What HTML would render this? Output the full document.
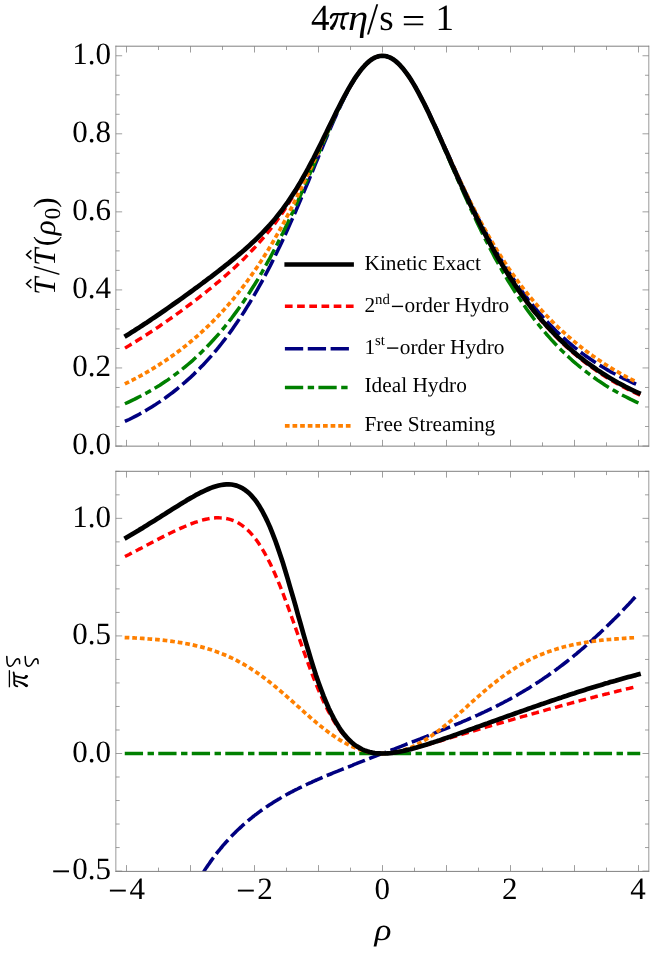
<!DOCTYPE html>
<html><head><meta charset="utf-8"><title>plot</title>
<style>html,body{margin:0;padding:0;background:#fff}body{width:664px;height:958px;position:relative;overflow:hidden;font-family:"Liberation Serif",serif}</style>
</head><body>
<svg text-rendering="geometricPrecision" width="664" height="958" viewBox="0 0 664 958" style="position:absolute;left:0;top:0;will-change:transform">
<defs><clipPath id="c1"><rect x="115.85" y="46.2" width="532.9499999999999" height="399.95"/></clipPath><clipPath id="c2"><rect x="115.85" y="471.3" width="532.9499999999999" height="400.09999999999997"/></clipPath></defs>
<g clip-path="url(#c1)" fill="none" stroke-linejoin="round" stroke-linecap="square">
<path d="M126.5 347.2 L129.1 345.6 L131.6 344.1 L134.2 342.5 L136.7 340.9 L139.3 339.3 L141.9 337.7 L144.4 336.1 L147.0 334.4 L149.5 332.8 L152.1 331.1 L154.7 329.4 L157.2 327.7 L159.8 326.0 L162.3 324.2 L164.9 322.5 L167.5 320.7 L170.0 318.9 L172.6 317.1 L175.1 315.3 L177.7 313.4 L180.3 311.6 L182.8 309.7 L185.4 307.8 L187.9 305.9 L190.5 304.0 L193.1 302.1 L195.6 300.1 L198.2 298.1 L200.7 296.1 L203.3 294.1 L205.9 292.1 L208.4 290.0 L211.0 288.0 L213.5 285.9 L216.1 283.7 L218.7 281.6 L221.2 279.4 L223.8 277.2 L226.3 275.0 L228.9 272.7 L231.5 270.4 L234.0 268.1 L236.6 265.7 L239.1 263.3 L241.7 260.9 L244.3 258.4 L246.8 255.8 L249.4 253.2 L251.9 250.5 L254.5 247.8 L257.1 245.0 L259.6 242.2 L262.2 239.2 L264.7 236.2 L267.3 233.1 L269.9 229.9 L272.4 226.7 L275.0 223.3 L277.5 219.8 L280.1 216.2 L282.7 212.5 L285.2 208.7 L287.8 204.8 L290.3 200.7 L292.9 196.6 L295.5 192.3 L298.0 187.9 L300.6 183.4 L303.1 178.7 L305.7 174.0 L308.3 169.1 L310.8 164.2 L313.4 159.1 L315.9 154.0 L318.5 148.8 L321.1 143.6 L323.6 138.3 L326.2 133.0 L328.7 127.7 L331.3 122.4 L333.9 117.1 L336.4 111.9 L339.0 106.8 L341.5 101.8 L344.1 96.9 L346.7 92.2 L349.2 87.6 L351.8 83.3 L354.3 79.2 L356.9 75.4 L359.5 71.8 L362.0 68.6 L364.6 65.7 L367.1 63.1 L369.7 60.9 L372.3 59.0 L374.8 57.6 L377.4 56.6 L379.9 56.0 L382.5 55.8 L385.1 56.0 L387.6 56.6 L390.2 57.6 L392.7 59.0 L395.3 60.9 L397.9 63.1 L400.4 65.7 L403.0 68.6 L405.5 71.9 L408.1 75.4 L410.7 79.3 L413.2 83.4 L415.8 87.8 L418.3 92.5 L420.9 97.3 L423.5 102.3 L426.0 107.5 L428.6 112.8 L431.1 118.2 L433.7 123.7 L436.3 129.3 L438.8 135.0 L441.4 140.8 L443.9 146.5 L446.5 152.3 L449.1 158.1 L451.6 163.8 L454.2 169.6 L456.7 175.3 L459.3 181.0 L461.9 186.6 L464.4 192.2 L467.0 197.7 L469.5 203.2 L472.1 208.6 L474.7 213.9 L477.2 219.1 L479.8 224.2 L482.3 229.3 L484.9 234.2 L487.5 239.1 L490.0 243.9 L492.6 248.6 L495.1 253.2 L497.7 257.7 L500.3 262.1 L502.8 266.4 L505.4 270.6 L507.9 274.7 L510.5 278.8 L513.1 282.7 L515.6 286.6 L518.2 290.4 L520.7 294.0 L523.3 297.6 L525.9 301.2 L528.4 304.6 L531.0 307.9 L533.5 311.2 L536.1 314.4 L538.7 317.5 L541.2 320.6 L543.8 323.5 L546.3 326.4 L548.9 329.2 L551.5 332.0 L554.0 334.7 L556.6 337.3 L559.1 339.9 L561.7 342.4 L564.3 344.8 L566.8 347.2 L569.4 349.5 L571.9 351.7 L574.5 353.9 L577.1 356.1 L579.6 358.2 L582.2 360.2 L584.7 362.2 L587.3 364.2 L589.9 366.1 L592.4 367.9 L595.0 369.7 L597.5 371.5 L600.1 373.2 L602.7 374.9 L605.2 376.5 L607.8 378.1 L610.3 379.7 L612.9 381.2 L615.5 382.7 L618.0 384.1 L620.6 385.5 L623.1 386.9 L625.7 388.3 L628.3 389.6 L630.8 390.9 L633.4 392.1 L635.9 393.3 L638.5 394.5" stroke="#ff0000" stroke-width="3.45" stroke-dasharray="4.25 7.95" stroke-dashoffset="0"/>
<path d="M126.5 420.7 L129.1 419.5 L131.6 418.2 L134.2 416.9 L136.7 415.6 L139.3 414.2 L141.9 412.8 L144.4 411.3 L147.0 409.8 L149.5 408.3 L152.1 406.7 L154.7 405.1 L157.2 403.4 L159.8 401.7 L162.3 400.0 L164.9 398.2 L167.5 396.3 L170.0 394.4 L172.6 392.5 L175.1 390.5 L177.7 388.4 L180.3 386.3 L182.8 384.1 L185.4 381.9 L187.9 379.6 L190.5 377.3 L193.1 374.9 L195.6 372.4 L198.2 369.9 L200.7 367.3 L203.3 364.7 L205.9 361.9 L208.4 359.1 L211.0 356.3 L213.5 353.3 L216.1 350.3 L218.7 347.2 L221.2 344.0 L223.8 340.7 L226.3 337.4 L228.9 333.9 L231.5 330.4 L234.0 326.8 L236.6 323.1 L239.1 319.3 L241.7 315.5 L244.3 311.5 L246.8 307.4 L249.4 303.3 L251.9 299.0 L254.5 294.7 L257.1 290.2 L259.6 285.7 L262.2 281.0 L264.7 276.3 L267.3 271.4 L269.9 266.5 L272.4 261.4 L275.0 256.2 L277.5 251.0 L280.1 245.7 L282.7 240.2 L285.2 234.7 L287.8 229.1 L290.3 223.4 L292.9 217.6 L295.5 211.7 L298.0 205.8 L300.6 199.8 L303.1 193.7 L305.7 187.6 L308.3 181.5 L310.8 175.3 L313.4 169.1 L315.9 162.9 L318.5 156.7 L321.1 150.5 L323.6 144.3 L326.2 138.2 L328.7 132.2 L331.3 126.3 L333.9 120.4 L336.4 114.7 L339.0 109.1 L341.5 103.7 L344.1 98.4 L346.7 93.4 L349.2 88.6 L351.8 84.0 L354.3 79.8 L356.9 75.8 L359.5 72.1 L362.0 68.8 L364.6 65.8 L367.1 63.2 L369.7 60.9 L372.3 59.1 L374.8 57.6 L377.4 56.6 L379.9 56.0 L382.5 55.8 L385.1 56.0 L387.6 56.6 L390.2 57.6 L392.7 59.0 L395.3 60.8 L397.9 63.0 L400.4 65.6 L403.0 68.5 L405.5 71.7 L408.1 75.2 L410.7 79.1 L413.2 83.1 L415.8 87.5 L418.3 92.0 L420.9 96.8 L423.5 101.7 L426.0 106.8 L428.6 112.0 L431.1 117.3 L433.7 122.8 L436.3 128.3 L438.8 133.9 L441.4 139.5 L443.9 145.2 L446.5 150.8 L449.1 156.5 L451.6 162.2 L454.2 167.8 L456.7 173.4 L459.3 179.0 L461.9 184.5 L464.4 190.0 L467.0 195.4 L469.5 200.7 L472.1 206.0 L474.7 211.2 L477.2 216.3 L479.8 221.4 L482.3 226.3 L484.9 231.2 L487.5 235.9 L490.0 240.6 L492.6 245.2 L495.1 249.7 L497.7 254.1 L500.3 258.4 L502.8 262.6 L505.4 266.7 L507.9 270.7 L510.5 274.7 L513.1 278.5 L515.6 282.3 L518.2 285.9 L520.7 289.5 L523.3 293.0 L525.9 296.4 L528.4 299.8 L531.0 303.0 L533.5 306.2 L536.1 309.3 L538.7 312.3 L541.2 315.2 L543.8 318.1 L546.3 320.9 L548.9 323.6 L551.5 326.3 L554.0 328.8 L556.6 331.4 L559.1 333.8 L561.7 336.2 L564.3 338.5 L566.8 340.8 L569.4 343.0 L571.9 345.2 L574.5 347.3 L577.1 349.3 L579.6 351.3 L582.2 353.3 L584.7 355.2 L587.3 357.0 L589.9 358.8 L592.4 360.5 L595.0 362.2 L597.5 363.9 L600.1 365.5 L602.7 367.1 L605.2 368.6 L607.8 370.1 L610.3 371.6 L612.9 373.0 L615.5 374.3 L618.0 375.7 L620.6 377.0 L623.1 378.3 L625.7 379.5 L628.3 380.7 L630.8 381.9 L633.4 383.0 L635.9 384.1 L638.5 385.2" stroke="#000080" stroke-width="3.55" stroke-dasharray="14.75 8.11" stroke-dashoffset="0"/>
<path d="M126.5 403.0 L129.1 401.8 L131.6 400.6 L134.2 399.4 L136.7 398.1 L139.3 396.8 L141.9 395.5 L144.4 394.1 L147.0 392.7 L149.5 391.3 L152.1 389.8 L154.7 388.3 L157.2 386.8 L159.8 385.2 L162.3 383.5 L164.9 381.8 L167.5 380.1 L170.0 378.3 L172.6 376.5 L175.1 374.6 L177.7 372.7 L180.3 370.7 L182.8 368.7 L185.4 366.6 L187.9 364.5 L190.5 362.3 L193.1 360.1 L195.6 357.7 L198.2 355.4 L200.7 352.9 L203.3 350.4 L205.9 347.9 L208.4 345.2 L211.0 342.5 L213.5 339.8 L216.1 336.9 L218.7 334.0 L221.2 331.0 L223.8 328.0 L226.3 324.8 L228.9 321.6 L231.5 318.3 L234.0 314.9 L236.6 311.4 L239.1 307.9 L241.7 304.2 L244.3 300.5 L246.8 296.7 L249.4 292.8 L251.9 288.8 L254.5 284.7 L257.1 280.5 L259.6 276.2 L262.2 271.8 L264.7 267.3 L267.3 262.7 L269.9 258.1 L272.4 253.3 L275.0 248.4 L277.5 243.5 L280.1 238.4 L282.7 233.3 L285.2 228.0 L287.8 222.7 L290.3 217.3 L292.9 211.8 L295.5 206.2 L298.0 200.6 L300.6 194.9 L303.1 189.1 L305.7 183.3 L308.3 177.4 L310.8 171.5 L313.4 165.6 L315.9 159.7 L318.5 153.8 L321.1 147.8 L323.6 141.9 L326.2 136.1 L328.7 130.2 L331.3 124.5 L333.9 118.9 L336.4 113.3 L339.0 107.9 L341.5 102.7 L344.1 97.6 L346.7 92.7 L349.2 88.0 L351.8 83.6 L354.3 79.4 L356.9 75.5 L359.5 71.9 L362.0 68.6 L364.6 65.7 L367.1 63.1 L369.7 60.9 L372.3 59.1 L374.8 57.6 L377.4 56.6 L379.9 56.0 L382.5 55.8 L385.1 56.0 L387.6 56.6 L390.2 57.6 L392.7 59.1 L395.3 60.9 L397.9 63.1 L400.4 65.7 L403.0 68.6 L405.5 71.9 L408.1 75.5 L410.7 79.4 L413.2 83.6 L415.8 88.0 L418.3 92.7 L420.9 97.6 L423.5 102.7 L426.0 107.9 L428.6 113.3 L431.1 118.9 L433.7 124.5 L436.3 130.2 L438.8 136.1 L441.4 141.9 L443.9 147.8 L446.5 153.8 L449.1 159.7 L451.6 165.6 L454.2 171.5 L456.7 177.4 L459.3 183.3 L461.9 189.1 L464.4 194.9 L467.0 200.6 L469.5 206.2 L472.1 211.8 L474.7 217.3 L477.2 222.7 L479.8 228.0 L482.3 233.3 L484.9 238.4 L487.5 243.5 L490.0 248.4 L492.6 253.3 L495.1 258.1 L497.7 262.7 L500.3 267.3 L502.8 271.8 L505.4 276.2 L507.9 280.5 L510.5 284.7 L513.1 288.8 L515.6 292.8 L518.2 296.7 L520.7 300.5 L523.3 304.2 L525.9 307.9 L528.4 311.4 L531.0 314.9 L533.5 318.3 L536.1 321.6 L538.7 324.8 L541.2 328.0 L543.8 331.0 L546.3 334.0 L548.9 336.9 L551.5 339.8 L554.0 342.5 L556.6 345.2 L559.1 347.9 L561.7 350.4 L564.3 352.9 L566.8 355.4 L569.4 357.7 L571.9 360.1 L574.5 362.3 L577.1 364.5 L579.6 366.6 L582.2 368.7 L584.7 370.7 L587.3 372.7 L589.9 374.6 L592.4 376.5 L595.0 378.3 L597.5 380.1 L600.1 381.8 L602.7 383.5 L605.2 385.2 L607.8 386.8 L610.3 388.3 L612.9 389.8 L615.5 391.3 L618.0 392.7 L620.6 394.1 L623.1 395.5 L625.7 396.8 L628.3 398.1 L630.8 399.4 L633.4 400.6 L635.9 401.8 L638.5 403.0" stroke="#008000" stroke-width="3.5" stroke-dasharray="14.8 8.0 2.9 7.8" stroke-dashoffset="0"/>
<path d="M126.5 383.1 L129.1 381.8 L131.6 380.5 L134.2 379.2 L136.7 377.9 L139.3 376.5 L141.9 375.1 L144.4 373.6 L147.0 372.1 L149.5 370.6 L152.1 369.1 L154.7 367.5 L157.2 365.9 L159.8 364.3 L162.3 362.6 L164.9 360.9 L167.5 359.2 L170.0 357.4 L172.6 355.6 L175.1 353.8 L177.7 351.9 L180.3 350.0 L182.8 348.0 L185.4 346.0 L187.9 343.9 L190.5 341.8 L193.1 339.7 L195.6 337.5 L198.2 335.2 L200.7 332.9 L203.3 330.6 L205.9 328.2 L208.4 325.8 L211.0 323.3 L213.5 320.7 L216.1 318.1 L218.7 315.4 L221.2 312.7 L223.8 309.9 L226.3 307.0 L228.9 304.1 L231.5 301.1 L234.0 298.1 L236.6 294.9 L239.1 291.7 L241.7 288.5 L244.3 285.1 L246.8 281.7 L249.4 278.2 L251.9 274.6 L254.5 270.9 L257.1 267.2 L259.6 263.3 L262.2 259.4 L264.7 255.4 L267.3 251.3 L269.9 247.1 L272.4 242.8 L275.0 238.4 L277.5 233.9 L280.1 229.4 L282.7 224.7 L285.2 220.0 L287.8 215.1 L290.3 210.2 L292.9 205.2 L295.5 200.1 L298.0 194.9 L300.6 189.6 L303.1 184.3 L305.7 178.9 L308.3 173.4 L310.8 167.9 L313.4 162.4 L315.9 156.8 L318.5 151.2 L321.1 145.5 L323.6 139.9 L326.2 134.3 L328.7 128.8 L331.3 123.3 L333.9 117.8 L336.4 112.5 L339.0 107.2 L341.5 102.1 L344.1 97.1 L346.7 92.3 L349.2 87.8 L351.8 83.4 L354.3 79.3 L356.9 75.4 L359.5 71.8 L362.0 68.6 L364.6 65.7 L367.1 63.1 L369.7 60.9 L372.3 59.0 L374.8 57.6 L377.4 56.6 L379.9 56.0 L382.5 55.8 L385.1 56.0 L387.6 56.6 L390.2 57.6 L392.7 59.0 L395.3 60.9 L397.9 63.1 L400.4 65.7 L403.0 68.6 L405.5 71.8 L408.1 75.4 L410.7 79.3 L413.2 83.4 L415.8 87.8 L418.3 92.3 L420.9 97.1 L423.5 102.1 L426.0 107.2 L428.6 112.5 L431.1 117.8 L433.7 123.3 L436.3 128.8 L438.8 134.3 L441.4 139.9 L443.9 145.5 L446.5 151.2 L449.1 156.8 L451.6 162.4 L454.2 167.9 L456.7 173.4 L459.3 178.9 L461.9 184.3 L464.4 189.6 L467.0 194.9 L469.5 200.1 L472.1 205.2 L474.7 210.2 L477.2 215.1 L479.8 220.0 L482.3 224.7 L484.9 229.4 L487.5 233.9 L490.0 238.4 L492.6 242.8 L495.1 247.1 L497.7 251.3 L500.3 255.4 L502.8 259.4 L505.4 263.3 L507.9 267.2 L510.5 270.9 L513.1 274.6 L515.6 278.2 L518.2 281.7 L520.7 285.1 L523.3 288.5 L525.9 291.7 L528.4 294.9 L531.0 298.1 L533.5 301.1 L536.1 304.1 L538.7 307.0 L541.2 309.9 L543.8 312.7 L546.3 315.4 L548.9 318.1 L551.5 320.7 L554.0 323.3 L556.6 325.8 L559.1 328.2 L561.7 330.6 L564.3 332.9 L566.8 335.2 L569.4 337.5 L571.9 339.7 L574.5 341.8 L577.1 343.9 L579.6 346.0 L582.2 348.0 L584.7 350.0 L587.3 351.9 L589.9 353.8 L592.4 355.6 L595.0 357.4 L597.5 359.2 L600.1 360.9 L602.7 362.6 L605.2 364.3 L607.8 365.9 L610.3 367.5 L612.9 369.1 L615.5 370.6 L618.0 372.1 L620.6 373.6 L623.1 375.1 L625.7 376.5 L628.3 377.9 L630.8 379.2 L633.4 380.5 L635.9 381.8 L638.5 383.1" stroke="#ff8000" stroke-width="3.7" stroke-dasharray="1.0 6.62" stroke-dashoffset="0"/>
<path d="M126.5 335.5 L129.1 333.9 L131.6 332.3 L134.2 330.7 L136.7 329.0 L139.3 327.4 L141.9 325.7 L144.4 324.0 L147.0 322.4 L149.5 320.7 L152.1 318.9 L154.7 317.2 L157.2 315.5 L159.8 313.7 L162.3 312.0 L164.9 310.2 L167.5 308.4 L170.0 306.6 L172.6 304.8 L175.1 303.0 L177.7 301.2 L180.3 299.4 L182.8 297.6 L185.4 295.7 L187.9 293.9 L190.5 292.0 L193.1 290.1 L195.6 288.2 L198.2 286.4 L200.7 284.5 L203.3 282.5 L205.9 280.6 L208.4 278.7 L211.0 276.8 L213.5 274.8 L216.1 272.8 L218.7 270.9 L221.2 268.9 L223.8 266.9 L226.3 264.8 L228.9 262.8 L231.5 260.7 L234.0 258.6 L236.6 256.5 L239.1 254.4 L241.7 252.2 L244.3 250.0 L246.8 247.7 L249.4 245.4 L251.9 243.1 L254.5 240.7 L257.1 238.2 L259.6 235.7 L262.2 233.1 L264.7 230.5 L267.3 227.7 L269.9 224.9 L272.4 222.0 L275.0 218.9 L277.5 215.8 L280.1 212.5 L282.7 209.2 L285.2 205.7 L287.8 202.1 L290.3 198.3 L292.9 194.4 L295.5 190.4 L298.0 186.2 L300.6 181.9 L303.1 177.5 L305.7 172.9 L308.3 168.2 L310.8 163.4 L313.4 158.5 L315.9 153.5 L318.5 148.4 L321.1 143.2 L323.6 138.0 L326.2 132.8 L328.7 127.5 L331.3 122.3 L333.9 117.0 L336.4 111.9 L339.0 106.8 L341.5 101.8 L344.1 96.9 L346.7 92.2 L349.2 87.6 L351.8 83.3 L354.3 79.2 L356.9 75.4 L359.5 71.8 L362.0 68.6 L364.6 65.7 L367.1 63.1 L369.7 60.9 L372.3 59.0 L374.8 57.6 L377.4 56.6 L379.9 56.0 L382.5 55.8 L385.1 56.0 L387.6 56.6 L390.2 57.6 L392.7 59.0 L395.3 60.9 L397.9 63.1 L400.4 65.7 L403.0 68.6 L405.5 71.9 L408.1 75.4 L410.7 79.3 L413.2 83.4 L415.8 87.8 L418.3 92.4 L420.9 97.3 L423.5 102.3 L426.0 107.4 L428.6 112.8 L431.1 118.2 L433.7 123.7 L436.3 129.3 L438.8 135.0 L441.4 140.7 L443.9 146.5 L446.5 152.2 L449.1 158.0 L451.6 163.7 L454.2 169.5 L456.7 175.2 L459.3 180.9 L461.9 186.5 L464.4 192.0 L467.0 197.5 L469.5 203.0 L472.1 208.3 L474.7 213.6 L477.2 218.8 L479.8 223.9 L482.3 228.9 L484.9 233.9 L487.5 238.7 L490.0 243.5 L492.6 248.1 L495.1 252.7 L497.7 257.2 L500.3 261.5 L502.8 265.8 L505.4 270.0 L507.9 274.1 L510.5 278.1 L513.1 282.0 L515.6 285.9 L518.2 289.6 L520.7 293.3 L523.3 296.8 L525.9 300.3 L528.4 303.7 L531.0 307.0 L533.5 310.3 L536.1 313.5 L538.7 316.5 L541.2 319.6 L543.8 322.5 L546.3 325.4 L548.9 328.2 L551.5 330.9 L554.0 333.6 L556.6 336.2 L559.1 338.7 L561.7 341.2 L564.3 343.6 L566.8 345.9 L569.4 348.2 L571.9 350.5 L574.5 352.7 L577.1 354.8 L579.6 356.9 L582.2 358.9 L584.7 360.9 L587.3 362.8 L589.9 364.7 L592.4 366.5 L595.0 368.3 L597.5 370.1 L600.1 371.8 L602.7 373.5 L605.2 375.1 L607.8 376.7 L610.3 378.2 L612.9 379.7 L615.5 381.2 L618.0 382.7 L620.6 384.1 L623.1 385.4 L625.7 386.8 L628.3 388.1 L630.8 389.4 L633.4 390.6 L635.9 391.8 L638.5 393.0" stroke="#000000" stroke-width="4.7"/>
</g>
<g clip-path="url(#c2)" fill="none" stroke-linejoin="round" stroke-linecap="square">
<path d="M126.5 555.8 L129.1 554.5 L131.6 553.1 L134.2 551.8 L136.7 550.5 L139.3 549.1 L141.9 547.8 L144.4 546.4 L147.0 545.1 L149.5 543.8 L152.1 542.4 L154.7 541.1 L157.2 539.7 L159.8 538.4 L162.3 537.1 L164.9 535.8 L167.5 534.5 L170.0 533.3 L172.6 532.0 L175.1 530.8 L177.7 529.6 L180.3 528.4 L182.8 527.3 L185.4 526.2 L187.9 525.1 L190.5 524.1 L193.1 523.1 L195.6 522.2 L198.2 521.4 L200.7 520.6 L203.3 519.9 L205.9 519.3 L208.4 518.8 L211.0 518.3 L213.5 518.0 L216.1 517.8 L218.7 517.8 L221.2 517.9 L223.8 518.1 L226.3 518.5 L228.9 519.1 L231.5 519.9 L234.0 520.8 L236.6 522.0 L239.1 523.4 L241.7 525.1 L244.3 527.0 L246.8 529.2 L249.4 531.7 L251.9 534.5 L254.5 537.6 L257.1 541.0 L259.6 544.7 L262.2 548.8 L264.7 553.2 L267.3 557.9 L269.9 563.0 L272.4 568.3 L275.0 574.0 L277.5 580.0 L280.1 586.2 L282.7 592.7 L285.2 599.4 L287.8 606.3 L290.3 613.3 L292.9 620.5 L295.5 627.8 L298.0 635.0 L300.6 642.3 L303.1 649.6 L305.7 656.7 L308.3 663.8 L310.8 670.6 L313.4 677.3 L315.9 683.8 L318.5 690.0 L321.1 695.9 L323.6 701.6 L326.2 706.9 L328.7 711.9 L331.3 716.6 L333.9 721.0 L336.4 725.0 L339.0 728.8 L341.5 732.2 L344.1 735.3 L346.7 738.1 L349.2 740.6 L351.8 742.8 L354.3 744.8 L356.9 746.5 L359.5 748.0 L362.0 749.3 L364.6 750.4 L367.1 751.3 L369.7 752.0 L372.3 752.6 L374.8 753.0 L377.4 753.3 L379.9 753.4 L382.5 753.5 L385.1 753.5 L387.6 753.3 L390.2 753.1 L392.7 752.8 L395.3 752.4 L397.9 752.0 L400.4 751.6 L403.0 751.0 L405.5 750.5 L408.1 749.9 L410.7 749.3 L413.2 748.6 L415.8 747.9 L418.3 747.3 L420.9 746.5 L423.5 745.8 L426.0 745.1 L428.6 744.3 L431.1 743.6 L433.7 742.8 L436.3 742.1 L438.8 741.3 L441.4 740.5 L443.9 739.8 L446.5 739.0 L449.1 738.2 L451.6 737.4 L454.2 736.7 L456.7 735.9 L459.3 735.1 L461.9 734.3 L464.4 733.6 L467.0 732.8 L469.5 732.0 L472.1 731.3 L474.7 730.5 L477.2 729.8 L479.8 729.0 L482.3 728.2 L484.9 727.5 L487.5 726.7 L490.0 726.0 L492.6 725.2 L495.1 724.5 L497.7 723.8 L500.3 723.0 L502.8 722.3 L505.4 721.5 L507.9 720.8 L510.5 720.1 L513.1 719.3 L515.6 718.6 L518.2 717.9 L520.7 717.1 L523.3 716.4 L525.9 715.7 L528.4 715.0 L531.0 714.2 L533.5 713.5 L536.1 712.8 L538.7 712.1 L541.2 711.4 L543.8 710.7 L546.3 709.9 L548.9 709.2 L551.5 708.5 L554.0 707.8 L556.6 707.1 L559.1 706.4 L561.7 705.7 L564.3 705.0 L566.8 704.3 L569.4 703.6 L571.9 702.9 L574.5 702.2 L577.1 701.6 L579.6 700.9 L582.2 700.2 L584.7 699.5 L587.3 698.8 L589.9 698.2 L592.4 697.5 L595.0 696.8 L597.5 696.2 L600.1 695.5 L602.7 694.9 L605.2 694.2 L607.8 693.6 L610.3 692.9 L612.9 692.3 L615.5 691.7 L618.0 691.0 L620.6 690.4 L623.1 689.8 L625.7 689.2 L628.3 688.6 L630.8 688.0 L633.4 687.4 L635.9 686.8 L638.5 686.2" stroke="#ff0000" stroke-width="3.45" stroke-dasharray="4.25 7.95" stroke-dashoffset="0"/>
<path d="M204.1 871.1 L205.2 869.4 L206.5 867.4 L207.8 865.5 L209.1 863.7 L210.3 861.9 L211.6 860.1 L212.9 858.3 L214.2 856.6 L215.5 854.9 L216.7 853.3 L218.0 851.7 L219.3 850.1 L220.6 848.5 L221.9 847.0 L223.1 845.4 L224.4 844.0 L225.7 842.5 L227.0 841.1 L228.3 839.7 L229.5 838.3 L230.8 836.9 L232.1 835.6 L233.4 834.3 L234.7 833.0 L235.9 831.7 L237.2 830.5 L238.5 829.3 L239.8 828.1 L241.1 826.9 L242.3 825.7 L243.6 824.6 L244.9 823.4 L246.2 822.3 L247.5 821.2 L248.7 820.2 L250.0 819.1 L251.3 818.1 L252.6 817.0 L253.9 816.0 L255.1 815.0 L256.4 814.1 L257.7 813.1 L259.0 812.1 L260.3 811.2 L261.5 810.3 L262.8 809.4 L264.1 808.5 L265.4 807.6 L266.7 806.7 L267.9 805.9 L269.2 805.0 L270.5 804.2 L271.8 803.4 L273.1 802.6 L274.3 801.8 L275.6 801.0 L276.9 800.2 L278.2 799.4 L279.5 798.7 L280.7 797.9 L282.0 797.2 L283.3 796.4 L284.6 795.7 L285.9 795.0 L287.1 794.3 L288.4 793.6 L289.7 792.9 L291.0 792.2 L292.3 791.6 L293.5 790.9 L294.8 790.2 L296.1 789.6 L297.4 789.0 L298.7 788.3 L299.9 787.7 L301.2 787.1 L302.5 786.4 L303.8 785.8 L305.1 785.2 L306.3 784.6 L307.6 784.0 L308.9 783.4 L310.2 782.8 L311.5 782.3 L312.7 781.7 L314.0 781.1 L315.3 780.5 L316.6 780.0 L317.9 779.4 L319.1 778.9 L320.4 778.3 L321.7 777.7 L323.0 777.2 L324.3 776.7 L325.5 776.1 L326.8 775.6 L328.1 775.0 L329.4 774.5 L330.7 774.0 L331.9 773.5 L333.2 772.9 L334.5 772.4 L335.8 771.9 L337.1 771.4 L338.3 770.9 L339.6 770.3 L340.9 769.8 L342.2 769.3 L343.5 768.8 L344.7 768.3 L346.0 767.8 L347.3 767.3 L348.6 766.8 L349.9 766.3 L351.1 765.8 L352.4 765.3 L353.7 764.7 L355.0 764.2 L356.3 763.7 L357.5 763.2 L358.8 762.7 L360.1 762.2 L361.4 761.7 L362.7 761.2 L363.9 760.7 L365.2 760.2 L366.5 759.7 L367.8 759.2 L369.1 758.7 L370.3 758.2 L371.6 757.7 L372.9 757.2 L374.2 756.7 L375.5 756.2 L376.7 755.7 L378.0 755.2 L379.3 754.7 L380.6 754.2 L381.9 753.7 L383.1 753.3 L384.4 752.8 L385.7 752.3 L387.0 751.8 L388.3 751.3 L389.5 750.8 L390.8 750.3 L392.1 749.8 L393.4 749.3 L394.7 748.8 L395.9 748.3 L397.2 747.8 L398.5 747.3 L399.8 746.8 L401.1 746.3 L402.3 745.8 L403.6 745.3 L404.9 744.8 L406.2 744.3 L407.5 743.8 L408.7 743.3 L410.0 742.8 L411.3 742.3 L412.6 741.8 L413.9 741.3 L415.1 740.8 L416.4 740.3 L417.7 739.8 L419.0 739.3 L420.3 738.8 L421.5 738.3 L422.8 737.8 L424.1 737.3 L425.4 736.8 L426.7 736.3 L427.9 735.8 L429.2 735.3 L430.5 734.8 L431.8 734.3 L433.1 733.7 L434.3 733.2 L435.6 732.7 L436.9 732.2 L438.2 731.7 L439.5 731.2 L440.7 730.7 L442.0 730.2 L443.3 729.7 L444.6 729.2 L445.9 728.6 L447.1 728.1 L448.4 727.6 L449.7 727.1 L451.0 726.6 L452.3 726.0 L453.5 725.5 L454.8 725.0 L456.1 724.4 L457.4 723.9 L458.7 723.4 L459.9 722.8 L461.2 722.3 L462.5 721.7 L463.8 721.2 L465.1 720.6 L466.3 720.1 L467.6 719.5 L468.9 719.0 L470.2 718.4 L471.5 717.9 L472.7 717.3 L474.0 716.7 L475.3 716.2 L476.6 715.6 L477.9 715.0 L479.1 714.4 L480.4 713.8 L481.7 713.2 L483.0 712.6 L484.3 712.0 L485.5 711.4 L486.8 710.8 L488.1 710.2 L489.4 709.6 L490.7 709.0 L491.9 708.3 L493.2 707.7 L494.5 707.1 L495.8 706.4 L497.1 705.8 L498.3 705.1 L499.6 704.5 L500.9 703.8 L502.2 703.2 L503.5 702.5 L504.7 701.8 L506.0 701.1 L507.3 700.5 L508.6 699.8 L509.9 699.1 L511.1 698.4 L512.4 697.7 L513.7 696.9 L515.0 696.2 L516.3 695.5 L517.5 694.8 L518.8 694.0 L520.1 693.3 L521.4 692.5 L522.7 691.8 L523.9 691.0 L525.2 690.2 L526.5 689.5 L527.8 688.7 L529.1 687.9 L530.3 687.1 L531.6 686.3 L532.9 685.5 L534.2 684.7 L535.5 683.9 L536.7 683.0 L538.0 682.2 L539.3 681.4 L540.6 680.5 L541.9 679.7 L543.1 678.8 L544.4 677.9 L545.7 677.0 L547.0 676.2 L548.3 675.3 L549.5 674.4 L550.8 673.5 L552.1 672.5 L553.4 671.6 L554.7 670.7 L555.9 669.8 L557.2 668.8 L558.5 667.9 L559.8 666.9 L561.1 665.9 L562.3 665.0 L563.6 664.0 L564.9 663.0 L566.2 662.0 L567.5 661.0 L568.7 660.0 L570.0 659.0 L571.3 657.9 L572.6 656.9 L573.9 655.9 L575.1 654.8 L576.4 653.8 L577.7 652.7 L579.0 651.6 L580.3 650.5 L581.5 649.5 L582.8 648.4 L584.1 647.3 L585.4 646.1 L586.7 645.0 L587.9 643.9 L589.2 642.8 L590.5 641.6 L591.8 640.5 L593.1 639.3 L594.3 638.1 L595.6 637.0 L596.9 635.8 L598.2 634.6 L599.5 633.4 L600.7 632.2 L602.0 631.0 L603.3 629.8 L604.6 628.5 L605.9 627.3 L607.1 626.1 L608.4 624.8 L609.7 623.6 L611.0 622.3 L612.3 621.0 L613.5 619.7 L614.8 618.5 L616.1 617.2 L617.4 615.9 L618.7 614.6 L619.9 613.2 L621.2 611.9 L622.5 610.6 L623.8 609.3 L625.1 607.9 L626.3 606.6 L627.6 605.2 L628.9 603.9 L630.2 602.5 L631.5 601.1 L632.7 599.7 L634.0 598.3 L635.3 596.9 L636.6 595.5 L637.9 594.1 L638.5 593.4" stroke="#000080" stroke-width="3.55" stroke-dasharray="14.75 8.11" stroke-dashoffset="0"/>
<path d="M126.5 753.5 L129.1 753.5 L131.6 753.5 L134.2 753.5 L136.7 753.5 L139.3 753.5 L141.9 753.5 L144.4 753.5 L147.0 753.5 L149.5 753.5 L152.1 753.5 L154.7 753.5 L157.2 753.5 L159.8 753.5 L162.3 753.5 L164.9 753.5 L167.5 753.5 L170.0 753.5 L172.6 753.5 L175.1 753.5 L177.7 753.5 L180.3 753.5 L182.8 753.5 L185.4 753.5 L187.9 753.5 L190.5 753.5 L193.1 753.5 L195.6 753.5 L198.2 753.5 L200.7 753.5 L203.3 753.5 L205.9 753.5 L208.4 753.5 L211.0 753.5 L213.5 753.5 L216.1 753.5 L218.7 753.5 L221.2 753.5 L223.8 753.5 L226.3 753.5 L228.9 753.5 L231.5 753.5 L234.0 753.5 L236.6 753.5 L239.1 753.5 L241.7 753.5 L244.3 753.5 L246.8 753.5 L249.4 753.5 L251.9 753.5 L254.5 753.5 L257.1 753.5 L259.6 753.5 L262.2 753.5 L264.7 753.5 L267.3 753.5 L269.9 753.5 L272.4 753.5 L275.0 753.5 L277.5 753.5 L280.1 753.5 L282.7 753.5 L285.2 753.5 L287.8 753.5 L290.3 753.5 L292.9 753.5 L295.5 753.5 L298.0 753.5 L300.6 753.5 L303.1 753.5 L305.7 753.5 L308.3 753.5 L310.8 753.5 L313.4 753.5 L315.9 753.5 L318.5 753.5 L321.1 753.5 L323.6 753.5 L326.2 753.5 L328.7 753.5 L331.3 753.5 L333.9 753.5 L336.4 753.5 L339.0 753.5 L341.5 753.5 L344.1 753.5 L346.7 753.5 L349.2 753.5 L351.8 753.5 L354.3 753.5 L356.9 753.5 L359.5 753.5 L362.0 753.5 L364.6 753.5 L367.1 753.5 L369.7 753.5 L372.3 753.5 L374.8 753.5 L377.4 753.5 L379.9 753.5 L382.5 753.5 L385.1 753.5 L387.6 753.5 L390.2 753.5 L392.7 753.5 L395.3 753.5 L397.9 753.5 L400.4 753.5 L403.0 753.5 L405.5 753.5 L408.1 753.5 L410.7 753.5 L413.2 753.5 L415.8 753.5 L418.3 753.5 L420.9 753.5 L423.5 753.5 L426.0 753.5 L428.6 753.5 L431.1 753.5 L433.7 753.5 L436.3 753.5 L438.8 753.5 L441.4 753.5 L443.9 753.5 L446.5 753.5 L449.1 753.5 L451.6 753.5 L454.2 753.5 L456.7 753.5 L459.3 753.5 L461.9 753.5 L464.4 753.5 L467.0 753.5 L469.5 753.5 L472.1 753.5 L474.7 753.5 L477.2 753.5 L479.8 753.5 L482.3 753.5 L484.9 753.5 L487.5 753.5 L490.0 753.5 L492.6 753.5 L495.1 753.5 L497.7 753.5 L500.3 753.5 L502.8 753.5 L505.4 753.5 L507.9 753.5 L510.5 753.5 L513.1 753.5 L515.6 753.5 L518.2 753.5 L520.7 753.5 L523.3 753.5 L525.9 753.5 L528.4 753.5 L531.0 753.5 L533.5 753.5 L536.1 753.5 L538.7 753.5 L541.2 753.5 L543.8 753.5 L546.3 753.5 L548.9 753.5 L551.5 753.5 L554.0 753.5 L556.6 753.5 L559.1 753.5 L561.7 753.5 L564.3 753.5 L566.8 753.5 L569.4 753.5 L571.9 753.5 L574.5 753.5 L577.1 753.5 L579.6 753.5 L582.2 753.5 L584.7 753.5 L587.3 753.5 L589.9 753.5 L592.4 753.5 L595.0 753.5 L597.5 753.5 L600.1 753.5 L602.7 753.5 L605.2 753.5 L607.8 753.5 L610.3 753.5 L612.9 753.5 L615.5 753.5 L618.0 753.5 L620.6 753.5 L623.1 753.5 L625.7 753.5 L628.3 753.5 L630.8 753.5 L633.4 753.5 L635.9 753.5 L638.5 753.5" stroke="#008000" stroke-width="3.5" stroke-dasharray="14.8 8.0 2.9 7.8" stroke-dashoffset="0"/>
<path d="M126.5 637.6 L129.1 637.7 L131.6 637.8 L134.2 637.9 L136.7 638.1 L139.3 638.2 L141.9 638.4 L144.4 638.6 L147.0 638.8 L149.5 639.0 L152.1 639.2 L154.7 639.4 L157.2 639.6 L159.8 639.9 L162.3 640.1 L164.9 640.4 L167.5 640.7 L170.0 641.1 L172.6 641.4 L175.1 641.8 L177.7 642.1 L180.3 642.6 L182.8 643.0 L185.4 643.5 L187.9 643.9 L190.5 644.5 L193.1 645.0 L195.6 645.6 L198.2 646.2 L200.7 646.8 L203.3 647.5 L205.9 648.3 L208.4 649.0 L211.0 649.8 L213.5 650.7 L216.1 651.6 L218.7 652.5 L221.2 653.5 L223.8 654.5 L226.3 655.6 L228.9 656.7 L231.5 657.9 L234.0 659.1 L236.6 660.4 L239.1 661.8 L241.7 663.2 L244.3 664.6 L246.8 666.2 L249.4 667.7 L251.9 669.4 L254.5 671.0 L257.1 672.8 L259.6 674.6 L262.2 676.4 L264.7 678.3 L267.3 680.3 L269.9 682.3 L272.4 684.3 L275.0 686.4 L277.5 688.5 L280.1 690.7 L282.7 692.9 L285.2 695.1 L287.8 697.4 L290.3 699.6 L292.9 701.9 L295.5 704.2 L298.0 706.5 L300.6 708.8 L303.1 711.1 L305.7 713.4 L308.3 715.6 L310.8 717.9 L313.4 720.1 L315.9 722.2 L318.5 724.4 L321.1 726.5 L323.6 728.5 L326.2 730.5 L328.7 732.4 L331.3 734.3 L333.9 736.0 L336.4 737.8 L339.0 739.4 L341.5 741.0 L344.1 742.4 L346.7 743.8 L349.2 745.1 L351.8 746.4 L354.3 747.5 L356.9 748.5 L359.5 749.5 L362.0 750.3 L364.6 751.1 L367.1 751.7 L369.7 752.2 L372.3 752.7 L374.8 753.0 L377.4 753.3 L379.9 753.4 L382.5 753.5 L385.1 753.4 L387.6 753.3 L390.2 753.0 L392.7 752.7 L395.3 752.2 L397.9 751.7 L400.4 751.1 L403.0 750.3 L405.5 749.5 L408.1 748.5 L410.7 747.5 L413.2 746.4 L415.8 745.1 L418.3 743.8 L420.9 742.4 L423.5 741.0 L426.0 739.4 L428.6 737.8 L431.1 736.0 L433.7 734.3 L436.3 732.4 L438.8 730.5 L441.4 728.5 L443.9 726.5 L446.5 724.4 L449.1 722.2 L451.6 720.1 L454.2 717.9 L456.7 715.6 L459.3 713.4 L461.9 711.1 L464.4 708.8 L467.0 706.5 L469.5 704.2 L472.1 701.9 L474.7 699.6 L477.2 697.4 L479.8 695.1 L482.3 692.9 L484.9 690.7 L487.5 688.5 L490.0 686.4 L492.6 684.3 L495.1 682.3 L497.7 680.3 L500.3 678.3 L502.8 676.4 L505.4 674.6 L507.9 672.8 L510.5 671.0 L513.1 669.4 L515.6 667.7 L518.2 666.2 L520.7 664.6 L523.3 663.2 L525.9 661.8 L528.4 660.4 L531.0 659.1 L533.5 657.9 L536.1 656.7 L538.7 655.6 L541.2 654.5 L543.8 653.5 L546.3 652.5 L548.9 651.6 L551.5 650.7 L554.0 649.8 L556.6 649.0 L559.1 648.3 L561.7 647.5 L564.3 646.8 L566.8 646.2 L569.4 645.6 L571.9 645.0 L574.5 644.5 L577.1 643.9 L579.6 643.5 L582.2 643.0 L584.7 642.6 L587.3 642.1 L589.9 641.8 L592.4 641.4 L595.0 641.1 L597.5 640.7 L600.1 640.4 L602.7 640.1 L605.2 639.9 L607.8 639.6 L610.3 639.4 L612.9 639.2 L615.5 639.0 L618.0 638.8 L620.6 638.6 L623.1 638.4 L625.7 638.2 L628.3 638.1 L630.8 637.9 L633.4 637.8 L635.9 637.7 L638.5 637.6" stroke="#ff8000" stroke-width="3.7" stroke-dasharray="1.0 6.62" stroke-dashoffset="0"/>
<path d="M126.5 537.5 L129.1 536.0 L131.6 534.5 L134.2 533.0 L136.7 531.5 L139.3 529.9 L141.9 528.4 L144.4 526.8 L147.0 525.2 L149.5 523.6 L152.1 522.0 L154.7 520.4 L157.2 518.8 L159.8 517.2 L162.3 515.6 L164.9 514.0 L167.5 512.3 L170.0 510.7 L172.6 509.1 L175.1 507.5 L177.7 505.9 L180.3 504.3 L182.8 502.7 L185.4 501.2 L187.9 499.6 L190.5 498.1 L193.1 496.7 L195.6 495.2 L198.2 493.9 L200.7 492.5 L203.3 491.3 L205.9 490.1 L208.4 489.0 L211.0 487.9 L213.5 487.0 L216.1 486.2 L218.7 485.5 L221.2 485.0 L223.8 484.6 L226.3 484.4 L228.9 484.4 L231.5 484.5 L234.0 485.0 L236.6 485.6 L239.1 486.6 L241.7 487.8 L244.3 489.4 L246.8 491.3 L249.4 493.5 L251.9 496.2 L254.5 499.2 L257.1 502.7 L259.6 506.6 L262.2 511.0 L264.7 515.8 L267.3 521.1 L269.9 526.9 L272.4 533.1 L275.0 539.8 L277.5 546.9 L280.1 554.4 L282.7 562.3 L285.2 570.5 L287.8 579.1 L290.3 587.8 L292.9 596.7 L295.5 605.7 L298.0 614.8 L300.6 623.9 L303.1 632.9 L305.7 641.8 L308.3 650.5 L310.8 658.9 L313.4 667.1 L315.9 674.9 L318.5 682.4 L321.1 689.5 L323.6 696.1 L326.2 702.4 L328.7 708.2 L331.3 713.6 L333.9 718.6 L336.4 723.1 L339.0 727.3 L341.5 731.0 L344.1 734.4 L346.7 737.4 L349.2 740.1 L351.8 742.5 L354.3 744.6 L356.9 746.4 L359.5 747.9 L362.0 749.3 L364.6 750.4 L367.1 751.3 L369.7 752.0 L372.3 752.6 L374.8 753.0 L377.4 753.3 L379.9 753.4 L382.5 753.5 L385.1 753.5 L387.6 753.3 L390.2 753.1 L392.7 752.8 L395.3 752.4 L397.9 752.0 L400.4 751.5 L403.0 751.0 L405.5 750.4 L408.1 749.8 L410.7 749.2 L413.2 748.5 L415.8 747.8 L418.3 747.1 L420.9 746.3 L423.5 745.5 L426.0 744.8 L428.6 743.9 L431.1 743.1 L433.7 742.3 L436.3 741.4 L438.8 740.6 L441.4 739.7 L443.9 738.8 L446.5 737.9 L449.1 737.1 L451.6 736.2 L454.2 735.3 L456.7 734.4 L459.3 733.4 L461.9 732.5 L464.4 731.6 L467.0 730.7 L469.5 729.8 L472.1 728.9 L474.7 728.0 L477.2 727.0 L479.8 726.1 L482.3 725.2 L484.9 724.3 L487.5 723.4 L490.0 722.4 L492.6 721.5 L495.1 720.6 L497.7 719.7 L500.3 718.8 L502.8 717.9 L505.4 716.9 L507.9 716.0 L510.5 715.1 L513.1 714.2 L515.6 713.3 L518.2 712.4 L520.7 711.5 L523.3 710.6 L525.9 709.7 L528.4 708.8 L531.0 707.9 L533.5 707.0 L536.1 706.1 L538.7 705.2 L541.2 704.3 L543.8 703.5 L546.3 702.6 L548.9 701.7 L551.5 700.8 L554.0 700.0 L556.6 699.1 L559.1 698.2 L561.7 697.4 L564.3 696.5 L566.8 695.7 L569.4 694.8 L571.9 694.0 L574.5 693.2 L577.1 692.3 L579.6 691.5 L582.2 690.7 L584.7 689.9 L587.3 689.1 L589.9 688.3 L592.4 687.5 L595.0 686.7 L597.5 685.9 L600.1 685.2 L602.7 684.4 L605.2 683.6 L607.8 682.9 L610.3 682.1 L612.9 681.4 L615.5 680.7 L618.0 679.9 L620.6 679.2 L623.1 678.5 L625.7 677.8 L628.3 677.1 L630.8 676.4 L633.4 675.7 L635.9 675.1 L638.5 674.4" stroke="#000000" stroke-width="4.7"/>
</g>
<path d="M126.50 446.15 v-6.3 M126.50 46.2 v6.3 M158.50 446.15 v-3.8 M158.50 46.2 v3.8 M190.50 446.15 v-6.3 M190.50 46.2 v6.3 M222.50 446.15 v-3.8 M222.50 46.2 v3.8 M254.50 446.15 v-6.3 M254.50 46.2 v6.3 M286.50 446.15 v-3.8 M286.50 46.2 v3.8 M318.50 446.15 v-6.3 M318.50 46.2 v6.3 M350.50 446.15 v-3.8 M350.50 46.2 v3.8 M382.50 446.15 v-6.3 M382.50 46.2 v6.3 M414.50 446.15 v-3.8 M414.50 46.2 v3.8 M446.50 446.15 v-6.3 M446.50 46.2 v6.3 M478.50 446.15 v-3.8 M478.50 46.2 v3.8 M510.50 446.15 v-6.3 M510.50 46.2 v6.3 M542.50 446.15 v-3.8 M542.50 46.2 v3.8 M574.50 446.15 v-6.3 M574.50 46.2 v6.3 M606.50 446.15 v-3.8 M606.50 46.2 v3.8 M638.50 446.15 v-6.3 M638.50 46.2 v6.3 M115.85 446.00 h6.3 M648.8 446.00 h-6.3 M115.85 426.49 h3.8 M648.8 426.49 h-3.8 M115.85 406.98 h3.8 M648.8 406.98 h-3.8 M115.85 387.46 h3.8 M648.8 387.46 h-3.8 M115.85 367.95 h6.3 M648.8 367.95 h-6.3 M115.85 348.44 h3.8 M648.8 348.44 h-3.8 M115.85 328.92 h3.8 M648.8 328.92 h-3.8 M115.85 309.41 h3.8 M648.8 309.41 h-3.8 M115.85 289.90 h6.3 M648.8 289.90 h-6.3 M115.85 270.39 h3.8 M648.8 270.39 h-3.8 M115.85 250.88 h3.8 M648.8 250.88 h-3.8 M115.85 231.36 h3.8 M648.8 231.36 h-3.8 M115.85 211.85 h6.3 M648.8 211.85 h-6.3 M115.85 192.34 h3.8 M648.8 192.34 h-3.8 M115.85 172.82 h3.8 M648.8 172.82 h-3.8 M115.85 153.31 h3.8 M648.8 153.31 h-3.8 M115.85 133.80 h6.3 M648.8 133.80 h-6.3 M115.85 114.29 h3.8 M648.8 114.29 h-3.8 M115.85 94.77 h3.8 M648.8 94.77 h-3.8 M115.85 75.26 h3.8 M648.8 75.26 h-3.8 M115.85 55.75 h6.3 M648.8 55.75 h-6.3 M126.50 871.4 v-6.3 M126.50 471.3 v6.3 M158.50 871.4 v-3.8 M158.50 471.3 v3.8 M190.50 871.4 v-6.3 M190.50 471.3 v6.3 M222.50 871.4 v-3.8 M222.50 471.3 v3.8 M254.50 871.4 v-6.3 M254.50 471.3 v6.3 M286.50 871.4 v-3.8 M286.50 471.3 v3.8 M318.50 871.4 v-6.3 M318.50 471.3 v6.3 M350.50 871.4 v-3.8 M350.50 471.3 v3.8 M382.50 871.4 v-6.3 M382.50 471.3 v6.3 M414.50 871.4 v-3.8 M414.50 471.3 v3.8 M446.50 871.4 v-6.3 M446.50 471.3 v6.3 M478.50 871.4 v-3.8 M478.50 471.3 v3.8 M510.50 871.4 v-6.3 M510.50 471.3 v6.3 M542.50 871.4 v-3.8 M542.50 471.3 v3.8 M574.50 871.4 v-6.3 M574.50 471.3 v6.3 M606.50 871.4 v-3.8 M606.50 471.3 v3.8 M638.50 871.4 v-6.3 M638.50 471.3 v6.3 M115.85 871.08 h6.3 M648.8 871.08 h-6.3 M115.85 847.56 h3.8 M648.8 847.56 h-3.8 M115.85 824.04 h3.8 M648.8 824.04 h-3.8 M115.85 800.53 h3.8 M648.8 800.53 h-3.8 M115.85 777.01 h3.8 M648.8 777.01 h-3.8 M115.85 753.50 h6.3 M648.8 753.50 h-6.3 M115.85 729.99 h3.8 M648.8 729.99 h-3.8 M115.85 706.47 h3.8 M648.8 706.47 h-3.8 M115.85 682.95 h3.8 M648.8 682.95 h-3.8 M115.85 659.44 h3.8 M648.8 659.44 h-3.8 M115.85 635.92 h6.3 M648.8 635.92 h-6.3 M115.85 612.41 h3.8 M648.8 612.41 h-3.8 M115.85 588.89 h3.8 M648.8 588.89 h-3.8 M115.85 565.38 h3.8 M648.8 565.38 h-3.8 M115.85 541.87 h3.8 M648.8 541.87 h-3.8 M115.85 518.35 h6.3 M648.8 518.35 h-6.3 M115.85 494.83 h3.8 M648.8 494.83 h-3.8 M115.85 471.32 h3.8 M648.8 471.32 h-3.8" stroke="#666" stroke-width="0.63" fill="none"/>
<path d="M115.85 45.7 V446.65 M648.8 45.7 V446.65" fill="none" stroke="#808080" stroke-width="0.8"/>
<path d="M115.44999999999999 46.2 H649.1999999999999 M115.44999999999999 446.15 H649.1999999999999" fill="none" stroke="#808080" stroke-width="1.0"/>
<path d="M115.85 470.8 V871.9 M648.8 470.8 V871.9" fill="none" stroke="#808080" stroke-width="0.8"/>
<path d="M115.44999999999999 471.3 H649.1999999999999 M115.44999999999999 871.4 H649.1999999999999" fill="none" stroke="#808080" stroke-width="1.0"/>
<path d="M286.75 264.5 H351.55" stroke="#000000" stroke-width="4.7" stroke-linecap="square" fill="none"/>
<path d="M286.62 306.2 H351.88" stroke="#ff0000" stroke-width="3.45" stroke-linecap="square" fill="none" stroke-dasharray="4.25 7.95"/>
<path d="M286.67 348.7 H347.73" stroke="#000080" stroke-width="3.55" stroke-linecap="square" fill="none" stroke-dasharray="14.75 8.11"/>
<path d="M286.65 387.5 H346.25" stroke="#008000" stroke-width="3.5" stroke-linecap="square" fill="none" stroke-dasharray="14.8 8.0 2.9 7.8"/>
<path d="M286.75 425.9 H349.15" stroke="#ff8000" stroke-width="3.7" stroke-linecap="square" fill="none" stroke-dasharray="1.0 6.62"/>
<g font-family="Liberation Serif, serif" font-size="31" fill="#000">
<text x="111.0" y="454.3" text-anchor="end">0.0</text>
<text x="111.0" y="376.2" text-anchor="end">0.2</text>
<text x="111.0" y="298.2" text-anchor="end">0.4</text>
<text x="111.0" y="220.2" text-anchor="end">0.6</text>
<text x="111.0" y="142.1" text-anchor="end">0.8</text>
<text x="111.0" y="64.0" text-anchor="end">1.0</text>
<text x="111.0" y="879.4" text-anchor="end">0.5</text>
<path d="M53.2 871.33 H69.0" stroke="#000" stroke-width="1.9" fill="none"/>
<text x="111.0" y="761.8" text-anchor="end">0.0</text>
<text x="111.0" y="644.2" text-anchor="end">0.5</text>
<text x="111.0" y="526.6" text-anchor="end">1.0</text>
<text x="129.6" y="898.6">4</text>
<path d="M109.9 890.60 h15.9" stroke="#000" stroke-width="1.9" fill="none"/>
<text x="257.3" y="898.6">2</text>
<path d="M237.9 890.60 h15.9" stroke="#000" stroke-width="1.9" fill="none"/>
<text x="374.4" y="898.6">0</text>
<text x="502.0" y="898.6">2</text>
<text x="630.2" y="898.6">4</text>
</g>


<g font-family="Liberation Serif, serif" fill="#000">
<g font-size="37">
<text x="310.9" y="29.5">4</text>
<g transform="translate(329.9 29.5)" fill="none" stroke="#000" stroke-linecap="round" stroke-linejoin="round">
<path d="M0.95 -11.9 Q1.6 -15.2 4.6 -15.4 C9 -15.6 13 -14.6 18.5 -16.1" stroke-width="2.15"/>
<path d="M7.0 -15.0 L8.5 -15.0 C8.1 -10 6.4 -5.6 4.4 -1.9 L1.2 -3.3 C4.0 -6.6 6.4 -11 7.0 -15.0 Z" fill="#000" stroke="none"/>
<path d="M13.9 -15.0 L11.7 -5.6 C11.2 -3.0 11.6 -1.7 13.0 -1.4" stroke-width="2.3"/>
<circle cx="2.0" cy="-1.55" r="1.95" fill="#000" stroke="none"/>
<circle cx="13.5" cy="-1.55" r="1.85" fill="#000" stroke="none"/>
</g>
<text transform="translate(348.0 29.5) scale(1.1 1)" font-style="italic">η</text>
<text transform="translate(367.1 34.36) scale(1.09 1.216)">/</text>
<text x="379.3" y="29.6">s</text>
<text transform="translate(401.8 32.5) scale(1.127 1)">=</text>
<text x="435.4" y="29.5">1</text>
</g>
<g font-size="21.3">
<text x="364.5" y="269.8">Kinetic Exact</text>
<text x="364.4" y="312.0">2<tspan font-size="14.8" dy="-8.3">nd</tspan></text>
<path d="M391.9 306.4 H403.1" stroke="#000" stroke-width="1.4"/>
<text x="404.6" y="312.0">order Hydro</text>
<text x="364.4" y="353.7">1<tspan font-size="14.8" dy="-8.3">st</tspan></text>
<path d="M387.1 348.1 H398.3" stroke="#000" stroke-width="1.4"/>
<text x="399.8" y="353.7">order Hydro</text>
<text x="364.5" y="392.4">Ideal Hydro</text>
<text x="364.5" y="430.8">Free Streaming</text>
</g>
<text transform="translate(374.5 940) scale(1.14 1)" font-size="31" font-style="italic">ρ</text>
<g transform="translate(54.6 294.83) rotate(-90)" font-size="31">
<text x="0" y="0" font-style="italic">T</text>
<path d="M6.8 -23.2 L11.1 -28.0 L15.4 -23.2" fill="none" stroke="#000" stroke-width="1.5" stroke-linejoin="miter"/>
<text transform="translate(19.9 4.53) scale(1.06 1.236)">/</text>
<text x="29.1" y="0" font-style="italic">T</text>
<path d="M35.9 -23.2 L40.2 -28.0 L44.5 -23.2" fill="none" stroke="#000" stroke-width="1.5" stroke-linejoin="miter"/>
<text x="48.6" y="0.6">(</text>
<text x="59.7" y="0" font-style="italic">ρ</text>
<text x="75.5" y="5.2" font-size="22.8">0</text>
<text x="87.0" y="0.6">)</text>
</g>
<g transform="translate(27.7 687.37) rotate(-90)">
<g transform="translate(0.2 0) scale(0.80 0.875)" fill="none" stroke="#000" stroke-linecap="round" stroke-linejoin="round">
<path d="M0.95 -11.9 Q1.6 -15.2 4.6 -15.4 C9 -15.6 13 -14.6 18.5 -16.1" stroke-width="2.15"/>
<path d="M7.0 -15.0 L8.5 -15.0 C8.1 -10 6.4 -5.6 4.4 -1.9 L1.2 -3.3 C4.0 -6.6 6.4 -11 7.0 -15.0 Z" fill="#000" stroke="none"/>
<path d="M13.9 -15.0 L11.7 -5.6 C11.2 -3.0 11.6 -1.7 13.0 -1.4" stroke-width="2.3"/>
<circle cx="2.0" cy="-1.55" r="1.95" fill="#000" stroke="none"/>
<circle cx="13.5" cy="-1.55" r="1.85" fill="#000" stroke="none"/>
</g>
<path d="M0.1 -18.3 H17.2" stroke="#000" stroke-width="1.3"/>
</g>
<g fill="none" stroke="#000" stroke-width="1.55" stroke-linecap="round" stroke-linejoin="round">
<path d="M6.8 656.5 L7.05 661.5 C7.25 665 8.8 666.35 10.4 666.25 C12.3 666.1 13.3 664.4 14.2 662.5 C15.2 660.4 16.3 658.75 17.9 658.75 C19.3 658.8 19.75 660.5 19.6 663.6"/>
<path transform="translate(18.4 0)" d="M6.8 656.5 L7.05 661.5 C7.25 665 8.8 666.35 10.4 666.25 C12.3 666.1 13.3 664.4 14.2 662.5 C15.2 660.4 16.3 658.75 17.9 658.75 C19.3 658.8 19.75 660.5 19.6 663.6"/>
</g>
</g>

</svg>
</body></html>
